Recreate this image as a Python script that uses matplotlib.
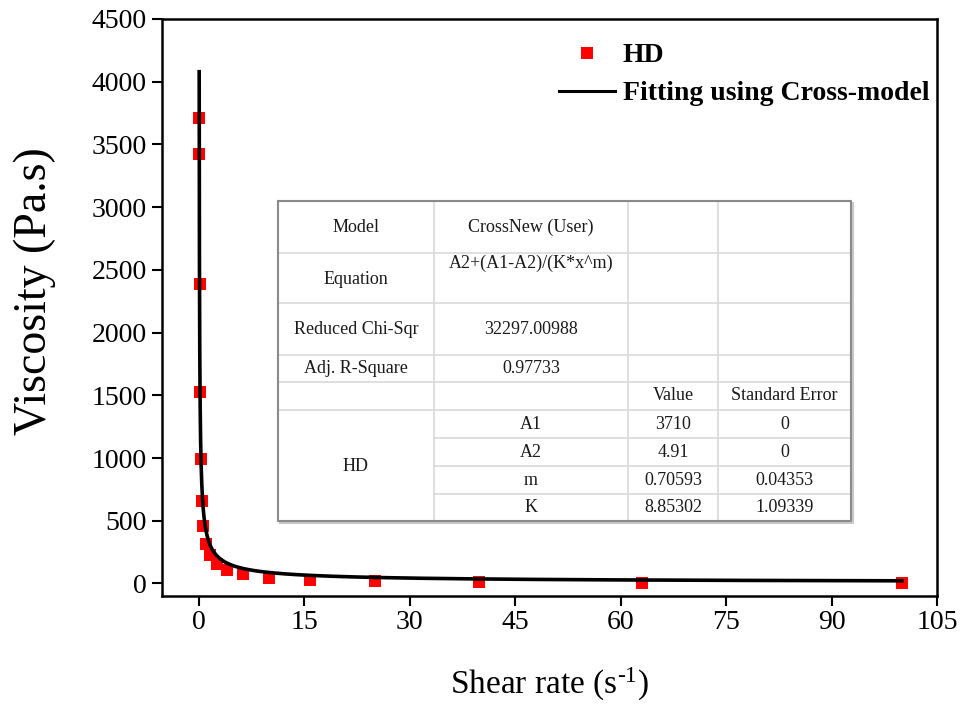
import numpy as np
import matplotlib
matplotlib.use("Agg")
import matplotlib.pyplot as plt

plt.rcParams["font.family"] = ["Liberation Serif", "DejaVu Serif"]
plt.rcParams["mathtext.fontset"] = "custom"
plt.rcParams["mathtext.rm"] = "Liberation Serif"
plt.rcParams["mathtext.it"] = "Liberation Serif:italic"

# Measured viscosity of HD versus shear rate
shear_rate = [0.0398, 0.0631, 0.1, 0.158, 0.251, 0.398, 0.631, 1.0, 1.58,
              2.51, 3.98, 6.31, 10.0, 15.8, 25.1, 39.8, 63.1, 100.0]
viscosity = [3712, 3425, 2390, 1530, 995, 660, 455, 318, 223,
             157, 109, 72, 42, 25, 16, 8, 5, 5]

# Cross-model fit results: y = A2 + (A1 - A2) / (K * x^m)
param_names = ["A1", "A2", "m", "K"]
param_values = [3710, 4.91, 0.70593, 8.85302]
param_errors = [0, 0, 0.04353, 1.09339]
chi_sqr = "32297.00988"
adj_r2 = "0.97733"

x_ticks = [0, 15, 30, 45, 60, 75, 90, 105]
y_ticks = [0, 500, 1000, 1500, 2000, 2500, 3000, 3500, 4000, 4500]

W, H = 962, 704
fig = plt.figure(figsize=(W / 100, H / 100), dpi=100)
ax = fig.add_axes([162 / W, 1 - 596 / H, (937 - 162) / W, (596 - 19) / H])

A1, A2, m, K = param_values
xf = np.logspace(np.log10(min(shear_rate)), np.log10(max(shear_rate)), 600)
yf = A2 + (A1 - A2) / (K * xf ** m)

ax.plot(shear_rate, viscosity, "s", color="#ff0000", markersize=8.5,
        markeredgewidth=0, label="HD", zorder=3)
ax.plot(xf, yf, "-", color="black", linewidth=2.6,
        label="Fitting using Cross-model", zorder=4)

ax.set_xlim(-5.25, 105)
ax.set_ylim(-100, 4500)
ax.set_xticks(x_ticks)
ax.set_yticks(y_ticks)
ax.tick_params(axis="both", direction="out", length=7, width=1.5,
               labelsize=20, pad=4)
ax.tick_params(axis="x", pad=3)
for sp in ax.spines.values():
    sp.set_linewidth(1.8)

ax.set_xlabel(r"Shear rate (s$^{\text{-1}}$)", fontsize=24)
ax.set_ylabel("Viscosity (Pa.s)", fontsize=33)
ax.xaxis.set_label_coords(0.5, -0.122)
ax.yaxis.set_label_coords(-0.137, 0.529)

leg = ax.legend(loc="upper left", bbox_to_anchor=(559 / W, 1 - 43 / H),
                bbox_transform=fig.transFigure, frameon=False,
                prop={"weight": "bold", "size": 20}, numpoints=1,
                handlelength=2.0, handletextpad=0.3, labelspacing=0.45,
                borderpad=0, borderaxespad=0)
leg.get_lines()[1].set_linewidth(2.2)

# Fit summary table
tx0, tx1, ty0, ty1 = 278, 851, 201, 521
tab = fig.add_axes([tx0 / W, 1 - ty1 / H, (tx1 - tx0) / W, (ty1 - ty0) / H])
tab.set_xlim(tx0, tx1)
tab.set_ylim(ty1, ty0)
tab.axis("off")
tab.patch.set_alpha(0)

cols = [278, 434, 628, 718, 851]
rows = [201, 253, 303, 355, 382, 410, 438, 466, 494, 521]
grid_c = "#d9d9d9"
for xc in cols[1:-1]:
    tab.plot([xc, xc], [ty0, ty1], color=grid_c, lw=1.2)
for yr in rows[1:6]:
    tab.plot([tx0, tx1], [yr, yr], color=grid_c, lw=1.2)
for yr in rows[6:9]:
    tab.plot([cols[1], tx1], [yr, yr], color=grid_c, lw=1.2)
# shadow and border
tab.plot([tx0 + 2, tx1 + 2, tx1 + 2], [ty1 + 2, ty1 + 2, ty0 + 2],
         color="#c8c8c8", lw=1.5, clip_on=False)
tab.plot([tx0, tx1, tx1, tx0, tx0], [ty0, ty0, ty1, ty1, ty0],
         color="#8a8a8a", lw=1.5, clip_on=False)

tc = "#1a1a1a"
fs = 13
c0 = (cols[0] + cols[1]) / 2
c1 = (cols[1] + cols[2]) / 2
c2 = (cols[2] + cols[3]) / 2
c3 = (cols[3] + cols[4]) / 2


def cell(x, y, s):
    tab.text(x, y, s, ha="center", va="center", fontsize=fs, color=tc)


cell(c0, 227, "Model")
cell(c1, 227, "CrossNew (User)")
cell(c0, 279, "Equation")
cell(c1, 263, "A2+(A1-A2)/(K*x^m)")
cell(c0, 329, "Reduced Chi-Sqr")
cell(c1, 329, chi_sqr)
cell(c0, 368, "Adj. R-Square")
cell(c1, 368, adj_r2)
cell(c2, 395, "Value")
cell(c3, 395, "Standard Error")
cell(c0, 466, "HD")
for i, (nm, v, e) in enumerate(zip(param_names, param_values, param_errors)):
    yc = (rows[5 + i] + rows[6 + i]) / 2
    cell(c1, yc, nm)
    cell(c2, yc, f"{v:g}")
    cell(c3, yc, f"{e:g}")

fig.savefig("out.png", dpi=100)
